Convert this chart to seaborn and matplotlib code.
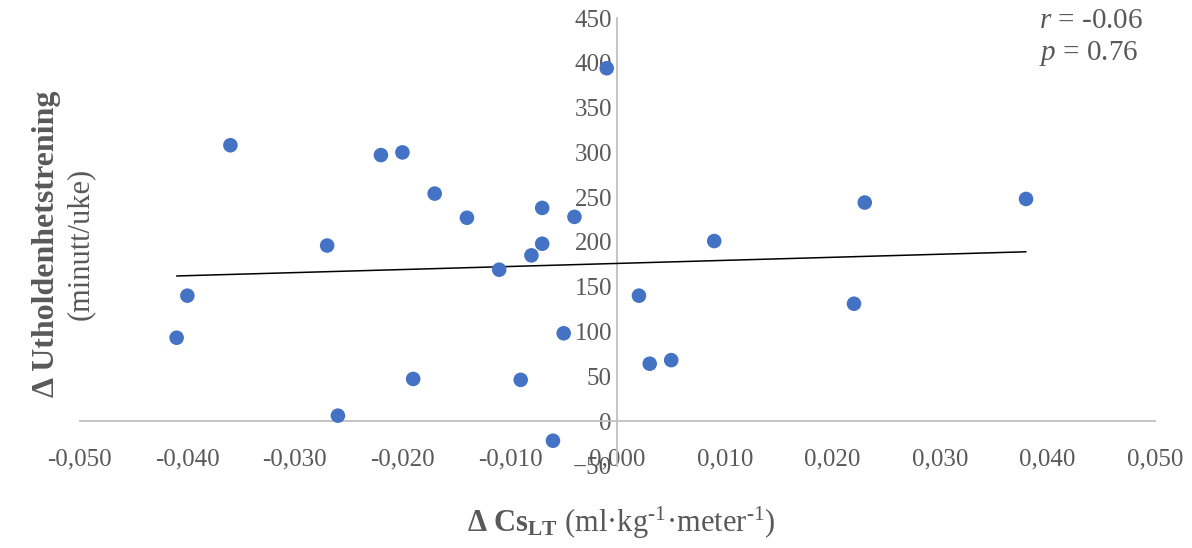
import numpy as np
import pandas as pd
import matplotlib
matplotlib.use("Agg")
import matplotlib.pyplot as plt
import seaborn as sns
from matplotlib.ticker import FuncFormatter, MultipleLocator

# Data
delta_cs = [-0.041, -0.040, -0.036, -0.027, -0.026, -0.022, -0.020, -0.019,
            -0.017, -0.014, -0.011, -0.009, -0.008, -0.007, -0.007, -0.006,
            -0.005, -0.004, -0.001, 0.002, 0.003, 0.005, 0.009, 0.022,
            0.023, 0.038]
delta_trening = [93, 140, 308, 196, 6, 297, 300, 47,
                 254, 227, 169, 46, 185, 238, 198, -22,
                 98, 228, 394, 140, 64, 68, 201, 131,
                 244, 248]

# Trendline endpoints as drawn in the reference
trend_x = [-0.041, 0.038]
trend_y = [162, 189]

stat_r = "-0.06"
stat_p = "0.76"

sns.set_theme(style="white")
plt.rcParams["font.family"] = ["Liberation Serif", "DejaVu Serif"]
plt.rcParams["mathtext.fontset"] = "custom"
plt.rcParams["mathtext.rm"] = "Liberation Serif"
plt.rcParams["mathtext.it"] = "Liberation Serif:italic"
plt.rcParams["mathtext.bf"] = "Liberation Serif:bold"

grey = "#595959"
axis_grey = "#bfbfbf"

df = pd.DataFrame({"x": delta_cs, "y": delta_trening})
df_trend = pd.DataFrame({"x": trend_x, "y": trend_y})

fig = plt.figure(figsize=(11.92, 5.48), dpi=100)
ax = fig.add_axes([0.067, 0.150, 0.902, 0.817])

sns.lineplot(data=df_trend, x="x", y="y", ax=ax, color="black", linewidth=1.1)
sns.scatterplot(data=df, x="x", y="y", ax=ax, color="#4472C4", s=110,
                edgecolor="none", zorder=3)

ax.set_xlim(-0.05, 0.05)
ax.set_ylim(-50, 450)
ax.xaxis.set_major_locator(MultipleLocator(0.01))
ax.yaxis.set_major_locator(MultipleLocator(50))

def komma(v, pos):
    if abs(v) < 1e-9:
        v = 0.0
    return f"{v:.3f}".replace(".", ",")

ax.xaxis.set_major_formatter(FuncFormatter(komma))

ax.spines["left"].set_position(("data", 0))
ax.spines["bottom"].set_position(("data", 0))
ax.spines["top"].set_visible(False)
ax.spines["right"].set_visible(False)
for side in ["left", "bottom"]:
    ax.spines[side].set_color(axis_grey)
    ax.spines[side].set_linewidth(1.3)
    ax.spines[side].set_zorder(1)

ax.tick_params(axis="x", length=0, pad=20, labelsize=18, labelcolor=grey)
ax.tick_params(axis="y", length=0, pad=4, labelsize=18, labelcolor=grey)
ax.set_xlabel("")
ax.set_ylabel("")

ax.text(0.0392, 447, rf"$\mathit{{r}}$ = {stat_r}", fontsize=21, color=grey,
        ha="left", va="center")
ax.text(0.0392, 411, rf"$\mathit{{p}}$ = {stat_p}", fontsize=21, color=grey,
        ha="left", va="center")

fig.text(0.039, 0.555, "Δ Utholdenhetstrening", rotation=90, fontsize=23,
         fontweight="bold", color=grey, ha="center", va="center")
fig.text(0.067, 0.555, "(minutt/uke)", rotation=90, fontsize=22,
         color=grey, ha="center", va="center")

fig.text(0.521, 0.045,
         r"$\mathbf{\Delta\ Cs_{LT}}$ (ml·kg$^{\text{-1}}$·meter$^{\text{-1}}$)",
         fontsize=22, color=grey, ha="center", va="center")

fig.savefig("out.png", dpi=100)
